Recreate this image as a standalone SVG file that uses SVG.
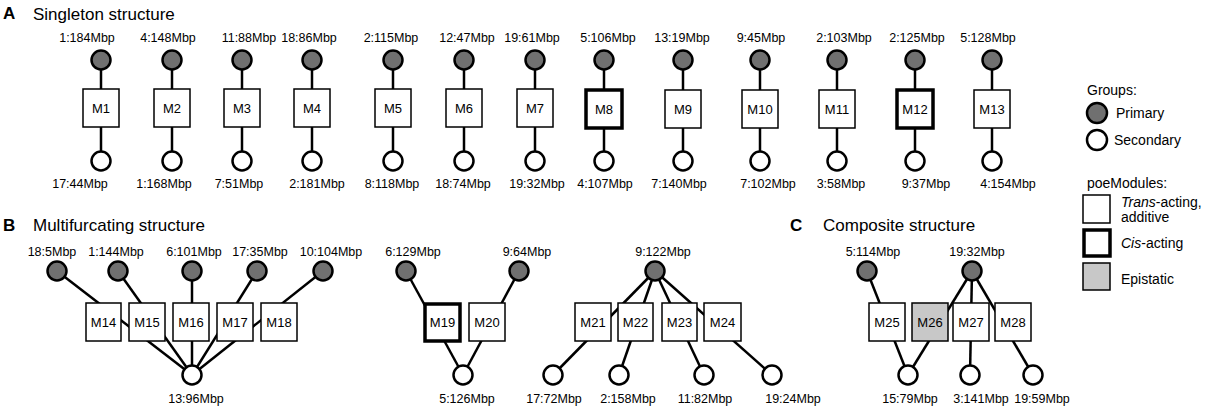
<svg xmlns="http://www.w3.org/2000/svg" width="1205" height="408" viewBox="0 0 1205 408">
<style>
text{font-family:"Liberation Sans",Arial,sans-serif;fill:#000}
.t{font-size:17px}
.h{font-size:17px;font-weight:bold}
.l{font-size:12.5px;text-anchor:middle}
.m{font-size:13px;text-anchor:middle}
.g{font-size:14px}
.ln{stroke:#000;stroke-width:2.5;fill:none}
.p{fill:#707070;stroke:#000;stroke-width:2.5}
.s{fill:#fff;stroke:#000;stroke-width:2.5}
.b{fill:#fff;stroke:#000;stroke-width:1.5}
.c{fill:#fff;stroke:#000;stroke-width:3.5}
.e{fill:#c8c8c8;stroke:#000;stroke-width:1.5}
</style>
<rect width="1205" height="408" fill="#fff"/>
<text class="h" x="3" y="19">A</text>
<text class="t" x="33" y="20">Singleton structure</text>
<text class="h" x="3" y="231">B</text>
<text class="t" x="33" y="231">Multifurcating structure</text>
<text class="h" x="790" y="231">C</text>
<text class="t" x="823" y="231">Composite structure</text>

<g id="connectors">
<line class="ln" x1="101" y1="60" x2="101" y2="161"/>
<line class="ln" x1="172" y1="60" x2="172" y2="161"/>
<line class="ln" x1="242" y1="60" x2="242" y2="161"/>
<line class="ln" x1="312" y1="60" x2="312" y2="161"/>
<line class="ln" x1="393" y1="60" x2="393" y2="161"/>
<line class="ln" x1="464" y1="60" x2="464" y2="161"/>
<line class="ln" x1="535" y1="60" x2="535" y2="161"/>
<line class="ln" x1="604" y1="60" x2="604" y2="161"/>
<line class="ln" x1="683" y1="60" x2="683" y2="161"/>
<line class="ln" x1="760" y1="60" x2="760" y2="161"/>
<line class="ln" x1="837" y1="60" x2="837" y2="161"/>
<line class="ln" x1="915" y1="60" x2="915" y2="161"/>
<line class="ln" x1="992" y1="60" x2="992" y2="161"/>
<line class="ln" x1="57" y1="271" x2="192" y2="375"/>
<line class="ln" x1="118" y1="271" x2="192" y2="375"/>
<line class="ln" x1="192" y1="271" x2="192" y2="375"/>
<line class="ln" x1="257" y1="271" x2="192" y2="375"/>
<line class="ln" x1="323" y1="271" x2="192" y2="375"/>
<line class="ln" x1="406" y1="271" x2="463" y2="375"/>
<line class="ln" x1="519" y1="271" x2="463" y2="375"/>
<line class="ln" x1="655" y1="271" x2="553" y2="375"/>
<line class="ln" x1="655" y1="271" x2="619" y2="375"/>
<line class="ln" x1="655" y1="271" x2="704" y2="375"/>
<line class="ln" x1="655" y1="271" x2="772" y2="375"/>
<line class="ln" x1="867" y1="271" x2="908" y2="375"/>
<line class="ln" x1="972" y1="271" x2="908" y2="375"/>
<line class="ln" x1="972" y1="271" x2="970" y2="375"/>
<line class="ln" x1="972" y1="271" x2="1033" y2="375"/>
</g>

<g id="A-primary">
<circle class="p" cx="101" cy="60" r="9.5"/><text class="l" x="87" y="42">1:184Mbp</text>
<circle class="p" cx="172" cy="60" r="9.5"/><text class="l" x="168" y="42">4:148Mbp</text>
<circle class="p" cx="242" cy="60" r="9.5"/><text class="l" x="249" y="42">11:88Mbp</text>
<circle class="p" cx="312" cy="60" r="9.5"/><text class="l" x="309" y="42">18:86Mbp</text>
<circle class="p" cx="393" cy="60" r="9.5"/><text class="l" x="391" y="42">2:115Mbp</text>
<circle class="p" cx="464" cy="60" r="9.5"/><text class="l" x="467" y="42">12:47Mbp</text>
<circle class="p" cx="535" cy="60" r="9.5"/><text class="l" x="532" y="42">19:61Mbp</text>
<circle class="p" cx="604" cy="60" r="9.5"/><text class="l" x="608" y="42">5:106Mbp</text>
<circle class="p" cx="683" cy="60" r="9.5"/><text class="l" x="682" y="42">13:19Mbp</text>
<circle class="p" cx="760" cy="60" r="9.5"/><text class="l" x="761" y="42">9:45Mbp</text>
<circle class="p" cx="837" cy="60" r="9.5"/><text class="l" x="844" y="42">2:103Mbp</text>
<circle class="p" cx="915" cy="60" r="9.5"/><text class="l" x="917" y="42">2:125Mbp</text>
<circle class="p" cx="992" cy="60" r="9.5"/><text class="l" x="988" y="42">5:128Mbp</text>
</g>
<g id="A-secondary">
<circle class="s" cx="101" cy="161" r="9.5"/><text class="l" x="80" y="188">17:44Mbp</text>
<circle class="s" cx="172" cy="161" r="9.5"/><text class="l" x="164" y="188">1:168Mbp</text>
<circle class="s" cx="242" cy="161" r="9.5"/><text class="l" x="239" y="188">7:51Mbp</text>
<circle class="s" cx="312" cy="161" r="9.5"/><text class="l" x="317" y="188">2:181Mbp</text>
<circle class="s" cx="393" cy="161" r="9.5"/><text class="l" x="392" y="188">8:118Mbp</text>
<circle class="s" cx="464" cy="161" r="9.5"/><text class="l" x="463" y="188">18:74Mbp</text>
<circle class="s" cx="535" cy="161" r="9.5"/><text class="l" x="537" y="188">19:32Mbp</text>
<circle class="s" cx="604" cy="161" r="9.5"/><text class="l" x="605" y="188">4:107Mbp</text>
<circle class="s" cx="683" cy="161" r="9.5"/><text class="l" x="679" y="188">7:140Mbp</text>
<circle class="s" cx="760" cy="161" r="9.5"/><text class="l" x="768" y="188">7:102Mbp</text>
<circle class="s" cx="837" cy="161" r="9.5"/><text class="l" x="841" y="188">3:58Mbp</text>
<circle class="s" cx="915" cy="161" r="9.5"/><text class="l" x="926" y="188">9:37Mbp</text>
<circle class="s" cx="992" cy="161" r="9.5"/><text class="l" x="1008" y="188">4:154Mbp</text>
</g>
<g id="M1"><rect class="b" x="83" y="89" width="36" height="38"/><text class="m" x="101" y="113">M1</text></g>
<g id="M2"><rect class="b" x="154" y="89" width="36" height="38"/><text class="m" x="172" y="113">M2</text></g>
<g id="M3"><rect class="b" x="224" y="89" width="36" height="38"/><text class="m" x="242" y="113">M3</text></g>
<g id="M4"><rect class="b" x="294" y="89" width="36" height="38"/><text class="m" x="312" y="113">M4</text></g>
<g id="M5"><rect class="b" x="375" y="89" width="36" height="38"/><text class="m" x="393" y="113">M5</text></g>
<g id="M6"><rect class="b" x="446" y="89" width="36" height="38"/><text class="m" x="464" y="113">M6</text></g>
<g id="M7"><rect class="b" x="517" y="89" width="36" height="38"/><text class="m" x="535" y="113">M7</text></g>
<g id="M8"><rect class="c" x="586" y="90" width="36" height="38"/><text class="m" x="604" y="114">M8</text></g>
<g id="M9"><rect class="b" x="665" y="90" width="36" height="38"/><text class="m" x="683" y="114">M9</text></g>
<g id="M10"><rect class="b" x="742" y="90" width="36" height="38"/><text class="m" x="760" y="114">M10</text></g>
<g id="M11"><rect class="b" x="819" y="90" width="36" height="38"/><text class="m" x="837" y="114">M11</text></g>
<g id="M12"><rect class="c" x="897" y="90" width="36" height="38"/><text class="m" x="915" y="114">M12</text></g>
<g id="M13"><rect class="b" x="974" y="90" width="36" height="38"/><text class="m" x="992" y="114">M13</text></g>

<g id="B-primary">
<circle class="p" cx="57" cy="271" r="9.5"/><text class="l" x="52" y="256">18:5Mbp</text>
<circle class="p" cx="118" cy="271" r="9.5"/><text class="l" x="116" y="256">1:144Mbp</text>
<circle class="p" cx="192" cy="271" r="9.5"/><text class="l" x="194" y="256">6:101Mbp</text>
<circle class="p" cx="257" cy="271" r="9.5"/><text class="l" x="260" y="256">17:35Mbp</text>
<circle class="p" cx="323" cy="271" r="9.5"/><text class="l" x="331" y="256">10:104Mbp</text>
<circle class="p" cx="406" cy="271" r="9.5"/><text class="l" x="413" y="256">6:129Mbp</text>
<circle class="p" cx="519" cy="271" r="9.5"/><text class="l" x="527" y="256">9:64Mbp</text>
<circle class="p" cx="655" cy="271" r="9.5"/><text class="l" x="663" y="256">9:122Mbp</text>
</g>
<g id="B-secondary">
<circle class="s" cx="192" cy="375" r="9.5"/><text class="l" x="196" y="403">13:96Mbp</text>
<circle class="s" cx="463" cy="375" r="9.5"/><text class="l" x="467" y="403">5:126Mbp</text>
<circle class="s" cx="553" cy="375" r="9.5"/><text class="l" x="554" y="403">17:72Mbp</text>
<circle class="s" cx="619" cy="375" r="9.5"/><text class="l" x="628" y="403">2:158Mbp</text>
<circle class="s" cx="704" cy="375" r="9.5"/><text class="l" x="705" y="403">11:82Mbp</text>
<circle class="s" cx="772" cy="375" r="9.5"/><text class="l" x="793" y="403">19:24Mbp</text>
</g>
<g id="M14"><rect class="b" x="86" y="303" width="35" height="38"/><text class="m" x="103.5" y="327">M14</text></g>
<g id="M15"><rect class="b" x="129" y="303" width="36" height="38"/><text class="m" x="147" y="327">M15</text></g>
<g id="M16"><rect class="b" x="173" y="303" width="36" height="38"/><text class="m" x="191" y="327">M16</text></g>
<g id="M17"><rect class="b" x="217" y="303" width="36" height="38"/><text class="m" x="235" y="327">M17</text></g>
<g id="M18"><rect class="b" x="261" y="303" width="36" height="38"/><text class="m" x="279" y="327">M18</text></g>
<g id="M19"><rect class="c" x="425" y="304" width="35" height="37"/><text class="m" x="442.5" y="327">M19</text></g>
<g id="M20"><rect class="b" x="469" y="303" width="36" height="38"/><text class="m" x="487" y="327">M20</text></g>
<g id="M21"><rect class="b" x="575" y="303" width="36" height="38"/><text class="m" x="593" y="327">M21</text></g>
<g id="M22"><rect class="b" x="618" y="303" width="35" height="38"/><text class="m" x="635.5" y="327">M22</text></g>
<g id="M23"><rect class="b" x="662" y="303" width="35" height="38"/><text class="m" x="679.5" y="327">M23</text></g>
<g id="M24"><rect class="b" x="704" y="303" width="37" height="38"/><text class="m" x="722.5" y="327">M24</text></g>

<g id="C-primary">
<circle class="p" cx="867" cy="271" r="9.5"/><text class="l" x="873" y="256">5:114Mbp</text>
<circle class="p" cx="972" cy="271" r="9.5"/><text class="l" x="977" y="256">19:32Mbp</text>
</g>
<g id="C-secondary">
<circle class="s" cx="908" cy="375" r="9.5"/><text class="l" x="910" y="403">15:79Mbp</text>
<circle class="s" cx="970" cy="375" r="9.5"/><text class="l" x="981" y="403">3:141Mbp</text>
<circle class="s" cx="1033" cy="375" r="9.5"/><text class="l" x="1042" y="403">19:59Mbp</text>
</g>
<g id="M25"><rect class="b" x="869" y="303" width="36" height="38"/><text class="m" x="887" y="327">M25</text></g>
<g id="M26"><rect class="e" x="912" y="303" width="36" height="38"/><text class="m" x="930" y="327">M26</text></g>
<g id="M27"><rect class="b" x="953" y="303" width="36" height="38"/><text class="m" x="971" y="327">M27</text></g>
<g id="M28"><rect class="b" x="995" y="303" width="36" height="38"/><text class="m" x="1013" y="327">M28</text></g>

<g id="legend">
<text class="g" x="1087" y="95">Groups:</text>
<circle class="p" cx="1097" cy="113" r="10"/><text class="g" x="1116" y="118">Primary</text>
<circle class="s" cx="1097" cy="140" r="10"/><text class="g" x="1114" y="145">Secondary</text>
<text class="g" x="1087" y="188">poeModules:</text>
<rect class="b" x="1083" y="195" width="27" height="28"/>
<text class="g" x="1121" y="207"><tspan font-style="italic">Trans</tspan>-acting,</text>
<text class="g" x="1121" y="222">additive</text>
<rect class="c" x="1084" y="230" width="26" height="26"/>
<text class="g" x="1121" y="248"><tspan font-style="italic">Cis</tspan>-acting</text>
<rect class="e" x="1083" y="263" width="27" height="27"/>
<text class="g" x="1121" y="284">Epistatic</text>
</g>
</svg>
